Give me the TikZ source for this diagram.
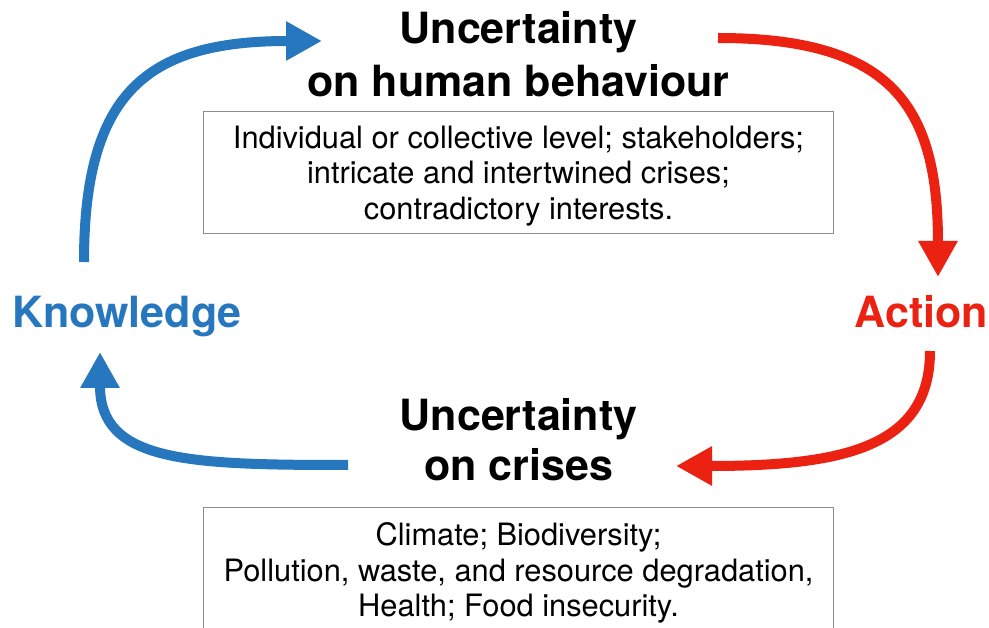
\documentclass[tikz,border=0pt]{standalone}
\usepackage{fontspec}
\usepackage{tikz}
\usetikzlibrary{arrows.meta}
\setmainfont{TeX Gyre Heros}
\definecolor{knowblue}{RGB}{38,119,189}
\definecolor{actred}{RGB}{235,34,18}
\definecolor{boxgray}{RGB}{140,140,140}

\begin{document}
\begin{tikzpicture}[x=1pt, y=-1pt,
  heading/.style={font=\fontsize{43}{53}\selectfont\bfseries, align=center, inner sep=0pt},
  sidelabel/.style={font=\fontsize{43}{50}\selectfont\bfseries, inner sep=0pt, anchor=base},
  infobox/.style={draw=boxgray, line width=1pt, minimum width=630, inner sep=0pt,
    font=\fontsize{30.8}{35.6}\selectfont, align=center},
  flow/.style={line width=10pt, -{Triangle[length=36pt, width=37pt]}}
]
  \path[use as bounding box, clip] (0,0) rectangle (989,628);

  % titles and boxes
  \node[heading] (behav) at (518.5,54.5) {Uncertainty\\on human behaviour};
  \node[infobox, minimum height=122] (behavbox) at (518.5,172.5)
    {\rule{0pt}{29pt}Individual or collective level; stakeholders;\\intricate and intertwined crises;\\contradictory interests.};
  \node[heading, font=\fontsize{43}{50}\selectfont\bfseries] (crises) at (518.5,439.5) {Uncertainty\\on crises};
  \node[infobox, minimum height=132] (crisesbox) at (518.5,573)
    {Climate; Biodiversity;\\Pollution, waste, and resource degradation,\\Health; Food insecurity.};

  \node[sidelabel, text=knowblue] (know) at (127,328) {Knowledge};
  \node[sidelabel, text=actred] (action) at (921.5,328) {Action};

  % arrow ends
  \coordinate (know-out) at (84,262);
  \coordinate (behav-in) at (322,41);
  \coordinate (behav-out) at (718,38);
  \coordinate (action-in) at (938,277);
  \coordinate (action-out) at (930,351);
  \coordinate (crises-in) at (676,466);
  \coordinate (crises-out) at (348,465);
  \coordinate (know-in) at (100,352);

  \draw[flow, knowblue] (know-out) .. controls +(0,-170) and +(-175,0) .. (behav-in); % knowledge -> behaviour
  \draw[flow, actred] (behav-out) .. controls +(175,0) and +(0,-170) .. (action-in); % behaviour -> action
  \draw[flow, actred] (action-out) .. controls +(0,95) and +(170,0) .. (crises-in); % action -> crises
  \draw[flow, knowblue] (crises-out) .. controls +(-160,0) and +(0,110) .. (know-in); % crises -> knowledge
\end{tikzpicture}
\end{document}
